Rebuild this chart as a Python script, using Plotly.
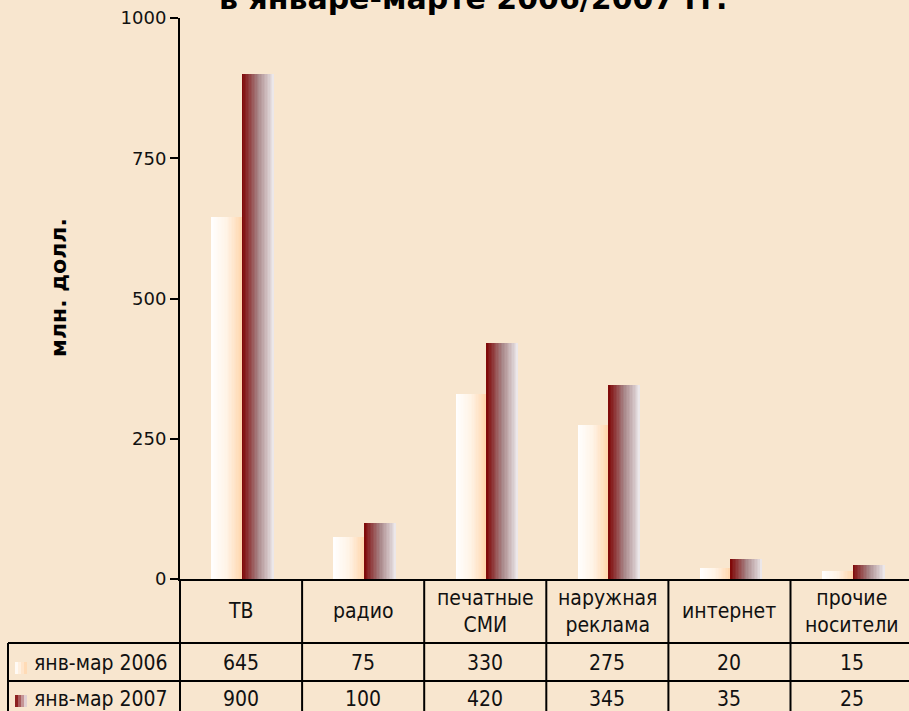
import plotly.graph_objects as go

# ---- data ----
categories = ["ТВ", "радио", "печатные<br>СМИ", "наружная<br>реклама", "интернет", "прочие<br>носители"]
series_names = ["янв-мар 2006", "янв-мар 2007"]
values_2006 = [645, 75, 330, 275, 20, 15]
values_2007 = [900, 100, 420, 345, 35, 25]
y_ticks = [0, 250, 500, 750, 1000]
title_text = "в январе-марте 2006/2007 гг."
y_title = "млн. долл."

BG = "#F8E6CF"
W, H = 909, 711
L, T, B = 180, 18, 132
XMIN, XMAX = -0.5, 5.4705
plot_h = H - T - B


def ypx(p):
    return (H - B - p) / plot_h


def xpx(p):
    return (p - L) / (W - L)


def xcat(c):
    return (c - XMIN) / (XMAX - XMIN)


def hex2rgb(h):
    h = h.lstrip("#")
    return [int(h[i:i + 2], 16) for i in (0, 2, 4)]


def lerp(stops, t):
    n = len(stops) - 1
    k = min(int(t * n), n - 1)
    tt = t * n - k
    a, b = hex2rgb(stops[k]), hex2rgb(stops[k + 1])
    return "rgb(%d,%d,%d)" % tuple(round(a[i] + (b[i] - a[i]) * tt) for i in range(3))


x_idx = list(range(len(categories)))
fig = go.Figure()

N = 22
series = [
    (values_2006, -0.243, 0.250, ["#FFFFFF", "#FFF3E6", "#FFD6AC"]),
    (values_2007, 0.008, 0.262, ["#7E0404", "#A88688", "#EFECEE"]),
]
for vals, off, wid, stops in series:
    sw = wid / N
    for i in range(N):
        fig.add_trace(go.Bar(
            x=x_idx, y=vals,
            offset=off + i * sw, width=sw * 1.6 if i < N - 1 else sw,
            marker=dict(color=lerp(stops, (i + 0.5) / N), line=dict(width=0)),
            showlegend=False, hoverinfo="skip",
        ))

font_tab = dict(family="DejaVu Sans Condensed, DejaVu Sans", size=21, color="#111")

shapes = []
line = dict(color="black", width=2)
y_top = ypx(H - B)
y_r1 = ypx(643)
y_r2 = ypx(681)
y_bot = ypx(722)
for yy in (y_r1, y_r2, y_bot):
    shapes.append(dict(type="line", xref="paper", yref="paper", x0=xpx(8), x1=1.02, y0=yy, y1=yy, line=line))
for k in range(len(categories)):
    xx = xcat(k - 0.5)
    shapes.append(dict(type="line", xref="paper", yref="paper", x0=xx, x1=xx, y0=y_top, y1=y_bot, line=line))
shapes.append(dict(type="line", xref="paper", yref="paper", x0=xpx(8), x1=xpx(8), y0=y_r1, y1=y_bot, line=line))

key_stops = [["#FFFFFF", "#FFD6AC"], ["#7E0404", "#EFECEE"]]
for r, (yc, st) in enumerate(((668, key_stops[0]), (701, key_stops[1]))):
    for i in range(4):
        shapes.append(dict(type="rect", xref="paper", yref="paper",
                           x0=xpx(15 + i * 3), x1=xpx(18 + i * 3),
                           y0=ypx(yc - 6), y1=ypx(yc + 6),
                           fillcolor=lerp(st, (i + 0.5) / 4), line=dict(width=0)))

annotations = []
for k, c in enumerate(categories):
    annotations.append(dict(x=k, xref="x", y=ypx(611), yref="paper", text=c, showarrow=False,
                            font=font_tab, xanchor="center", yanchor="middle"))
for vals, yc in ((values_2006, 663), (values_2007, 699)):
    for k, v in enumerate(vals):
        annotations.append(dict(x=k, xref="x", y=ypx(yc), yref="paper", text=str(v), showarrow=False,
                                font=font_tab, xanchor="center", yanchor="middle"))
for name, yc in zip(series_names, (663, 699)):
    annotations.append(dict(x=xpx(32), xref="paper", y=ypx(yc), yref="paper", text=name, showarrow=False,
                            font=font_tab, xanchor="left", yanchor="middle"))
annotations.append(dict(x=xpx(58), xref="paper", y=ypx(288), yref="paper", text="<b>%s</b>" % y_title,
                        textangle=-90, showarrow=False,
                        font=dict(family="DejaVu Sans", size=22, color="black"),
                        xanchor="center", yanchor="middle"))
annotations.append(dict(x=xpx(473), xref="paper", y=ypx(-1), yref="paper", text="<b>%s</b>" % title_text,
                        showarrow=False, font=dict(family="DejaVu Sans", size=30, color="black"),
                        xanchor="center", yanchor="middle"))

fig.update_layout(
    width=W, height=H,
    margin=dict(l=L, r=0, t=T, b=B, pad=0),
    paper_bgcolor=BG, plot_bgcolor=BG,
    barmode="overlay", bargap=0,
    showlegend=False,
    xaxis=dict(range=[XMIN, XMAX], showticklabels=False, ticks="", showgrid=False, zeroline=False,
               showline=True, linecolor="black", linewidth=2, fixedrange=True),
    yaxis=dict(range=[0, 1000], tickvals=y_ticks, ticktext=[str(v) for v in y_ticks],
               ticks="outside", ticklen=8, tickwidth=2, tickcolor="black",
               showline=True, linecolor="black", linewidth=2, showgrid=False, zeroline=False,
               tickfont=dict(family="DejaVu Sans", size=18, color="#111"), fixedrange=True),
    shapes=shapes, annotations=annotations,
)

fig.write_html("out.html", config={"displayModeBar": False},
               post_script="document.body.style.margin='0';document.body.style.overflow='hidden';")
